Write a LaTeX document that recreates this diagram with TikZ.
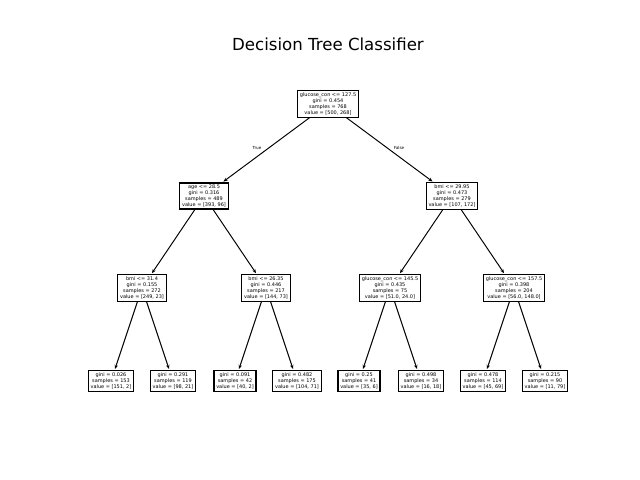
\documentclass[tikz,border=0pt]{standalone}
\usepackage{fontspec}
\setmainfont{DejaVu Sans}
\usetikzlibrary{arrows.meta}
\tikzset{
  treebox/.style={draw, line width=0.8pt, inner xsep=1.6pt, inner ysep=1.4pt, align=center,
    font=\fontsize{3.6}{4.3}\selectfont},
  treeedge/.style={-{Stealth[length=3pt,width=2.4pt]}, line width=0.7pt, shorten >=1pt},
  edgelabel/.style={font=\fontsize{3}{3.6}\selectfont}
}
\begin{document}
\begin{tikzpicture}[x=0.0254cm, y=-0.0254cm]
\useasboundingbox (0, 0) rectangle (640, 480);
\node [font=\fontsize{12}{14}\selectfont] (title) at (328, 44) {Decision Tree Classifier};

\node [treebox] (root) at (328, 104) {glucose\_con <= 127.5\\gini = 0.454\\samples = 768\\value = [500, 268]};

\node [treebox] (L)  at (204, 196) {age <= 28.5\\gini = 0.316\\samples = 489\\value = [393, 96]};
\node [treebox] (R)  at (452, 196) {bmi <= 29.95\\gini = 0.473\\samples = 279\\value = [107, 172]};

\node [treebox] (LL) at (142, 288) {bmi <= 31.4\\gini = 0.155\\samples = 272\\value = [249, 23]};
\node [treebox] (LR) at (266, 288) {bmi <= 26.35\\gini = 0.446\\samples = 217\\value = [144, 73]};
\node [treebox] (RL) at (390, 288) {glucose\_con <= 145.5\\gini = 0.435\\samples = 75\\value = [51.0, 24.0]};
\node [treebox] (RR) at (514, 288) {glucose\_con <= 157.5\\gini = 0.398\\samples = 204\\value = [56.0, 148.0]};

%%%%%%%%%%%%%%%%%%%%%%%%%%%%%%%%%%%%%%%%

\node [treebox] (LLL) at (111, 381) {gini = 0.026\\samples = 153\\value = [151, 2]};
\node [treebox] (LLR) at (173, 381) {gini = 0.291\\samples = 119\\value = [98, 21]};
\node [treebox] (LRL) at (235, 381) {gini = 0.091\\samples = 42\\value = [40, 2]};
\node [treebox] (LRR) at (297, 381) {gini = 0.482\\samples = 175\\value = [104, 71]};
\node [treebox] (RLL) at (359, 381) {gini = 0.25\\samples = 41\\value = [35, 6]};
\node [treebox] (RLR) at (421, 381) {gini = 0.498\\samples = 34\\value = [16, 18]};
\node [treebox] (RRL) at (483, 381) {gini = 0.478\\samples = 114\\value = [45, 69]};
\node [treebox] (RRR) at (545, 381) {gini = 0.215\\samples = 90\\value = [11, 79]};

%%%%%%%%%%%%%%%%%%%%%%%%%%%%%%%%%%%%%%%%

\draw [treeedge] (root) -- (L);
\draw [treeedge] (root) -- (R);
\node [edgelabel] (true) at (257, 148) {True};
\node [edgelabel] (false) at (399, 148) {False};
\draw [treeedge] (L) -- (LL);
\draw [treeedge] (L) -- (LR);
\draw [treeedge] (R) -- (RL);
\draw [treeedge] (R) -- (RR);
\draw [treeedge] (LL) -- (LLL);
\draw [treeedge] (LL) -- (LLR);
\draw [treeedge] (LR) -- (LRL);
\draw [treeedge] (LR) -- (LRR);
\draw [treeedge] (RL) -- (RLL);
\draw [treeedge] (RL) -- (RLR);
\draw [treeedge] (RR) -- (RRL);
\draw [treeedge] (RR) -- (RRR);

\end{tikzpicture}
\end{document}
